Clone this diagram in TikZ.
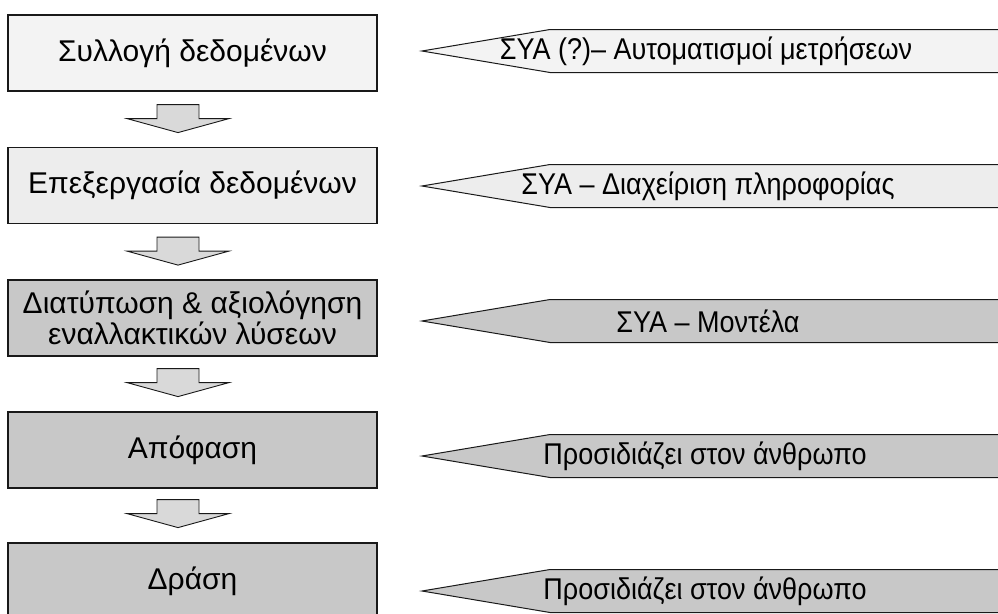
\documentclass[tikz,border=0pt]{standalone}
\usepackage{fontspec}
\setmainfont{Liberation Sans}
\newfontfamily\calloutfont[FakeStretch=0.9]{Liberation Sans}
\usetikzlibrary{calc}
\definecolor{lightfill}{HTML}{F3F3F3}
\definecolor{lightfillb}{HTML}{EDEDED}
\definecolor{midfill}{HTML}{C8C8C8}
\definecolor{arrowfill}{HTML}{D9D9D9}
\tikzset{
  stepbox/.style={draw=black!90, line width=1.2pt, minimum width=369pt, minimum height=76pt,
    inner sep=0pt, align=center, font=\fontsize{30}{31}\selectfont},
  calloutshape/.style={draw=black!90, line width=1pt, line join=miter},
  callouttext/.style={inner sep=0pt, font=\calloutfont\fontsize{30}{31}\selectfont},
  blockarrow/.style={draw=black!90, line width=0.9pt, fill=arrowfill, line join=miter},
  downarrow/.pic={\draw[blockarrow] (-21,0) -- (21,0) -- (21,-14) -- (51,-14) -- (0,-28) -- (-51,-14) -- (-21,-14) -- cycle;}
}
\begin{document}
\begin{tikzpicture}[x=1pt,y=1pt]
\useasboundingbox (0,0) rectangle (998,-613);
\clip (0,0) rectangle (998,-613);
% left boxes
\node[stepbox, fill=lightfill] (b1) at (192.5,-53) {Συλλογή δεδομένων};
\node[stepbox, fill=lightfillb] (b2) at (192.5,-185.5) {Επεξεργασία δεδομένων};
\node[stepbox, fill=midfill] (b3) at (192.5,-318) {Διατύπωση \& αξιολόγηση\\εναλλακτικών λύσεων};
\node[stepbox, fill=midfill] (b4) at (192.5,-450) {Απόφαση};
\node[stepbox, fill=midfill] (b5) at (192.5,-581) {Δράση};
% block arrows between boxes
\path (b1.south) ++(-14.5,-13) pic {downarrow};
\path (b2.south) ++(-14.5,-13) pic {downarrow};
\path (b3.south) ++(-14.5,-12) pic {downarrow};
\path (b4.south) ++(-14.5,-11) pic {downarrow};
% callouts
\foreach \cy/\col in {-51/lightfill, -186/lightfillb, -321/midfill, -456/midfill, -591/midfill}{
  \draw[calloutshape, fill=\col] (422,\cy) -- (550,\cy+21.5) -- (1010,\cy+21.5) -- (1010,\cy-21.5) -- (550,\cy-21.5) -- cycle;
}
\node[callouttext] (c1) at (706,-51) {ΣΥΑ (?)– Αυτοματισμοί μετρήσεων};
\node[callouttext] (c2) at (708,-186) {ΣΥΑ – Διαχείριση πληροφορίας};
\node[callouttext] (c3) at (708,-321) {ΣΥΑ – Μοντέλα};
\node[callouttext] (c4) at (705,-456) {Προσιδιάζει στον άνθρωπο};
\node[callouttext] (c5) at (705,-591) {Προσιδιάζει στον άνθρωπο};
\end{tikzpicture}
\end{document}
